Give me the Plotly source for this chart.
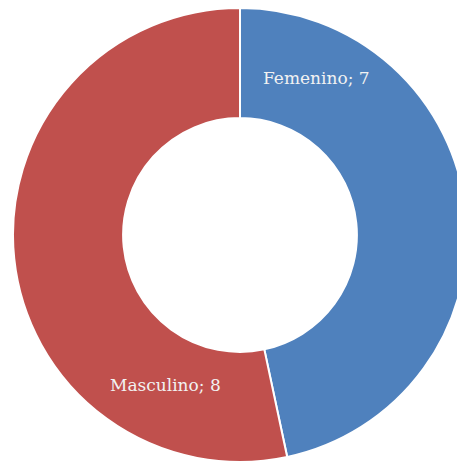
import plotly.graph_objects as go

labels = ["Femenino", "Masculino"]
values = [7, 8]
colors = ["#4F81BD", "#C0504D"]

W, H = 465, 466
OFF = 8  # default page body margin

fig = go.Figure(go.Pie(
    labels=labels,
    values=values,
    hole=0.515,
    sort=False,
    direction="clockwise",
    rotation=0,
    marker=dict(colors=colors, line=dict(color="white", width=2)),
    textinfo="none",
    hoverinfo="label+value",
    domain=dict(x=[5 / W, 459 / W], y=[(H - 454) / H, 1.0]),
    showlegend=False,
))

label_pos = [((316 - OFF) / W, 1 - (78 - OFF) / H), ((165 - OFF) / W, 1 - (385 - OFF) / H)]
for lab, val, (x, y) in zip(labels, values, label_pos):
    fig.add_annotation(
        x=x, y=y, xref="paper", yref="paper",
        text=f"{lab}; {val}", showarrow=False,
        font=dict(family="DejaVu Serif", size=17, color="#F2F2F2"),
        xanchor="center", yanchor="middle",
    )

fig.update_layout(
    width=W, height=H,
    margin=dict(l=0, r=0, t=0, b=0),
    paper_bgcolor="white",
    plot_bgcolor="white",
)

fig.write_html("out.html")
